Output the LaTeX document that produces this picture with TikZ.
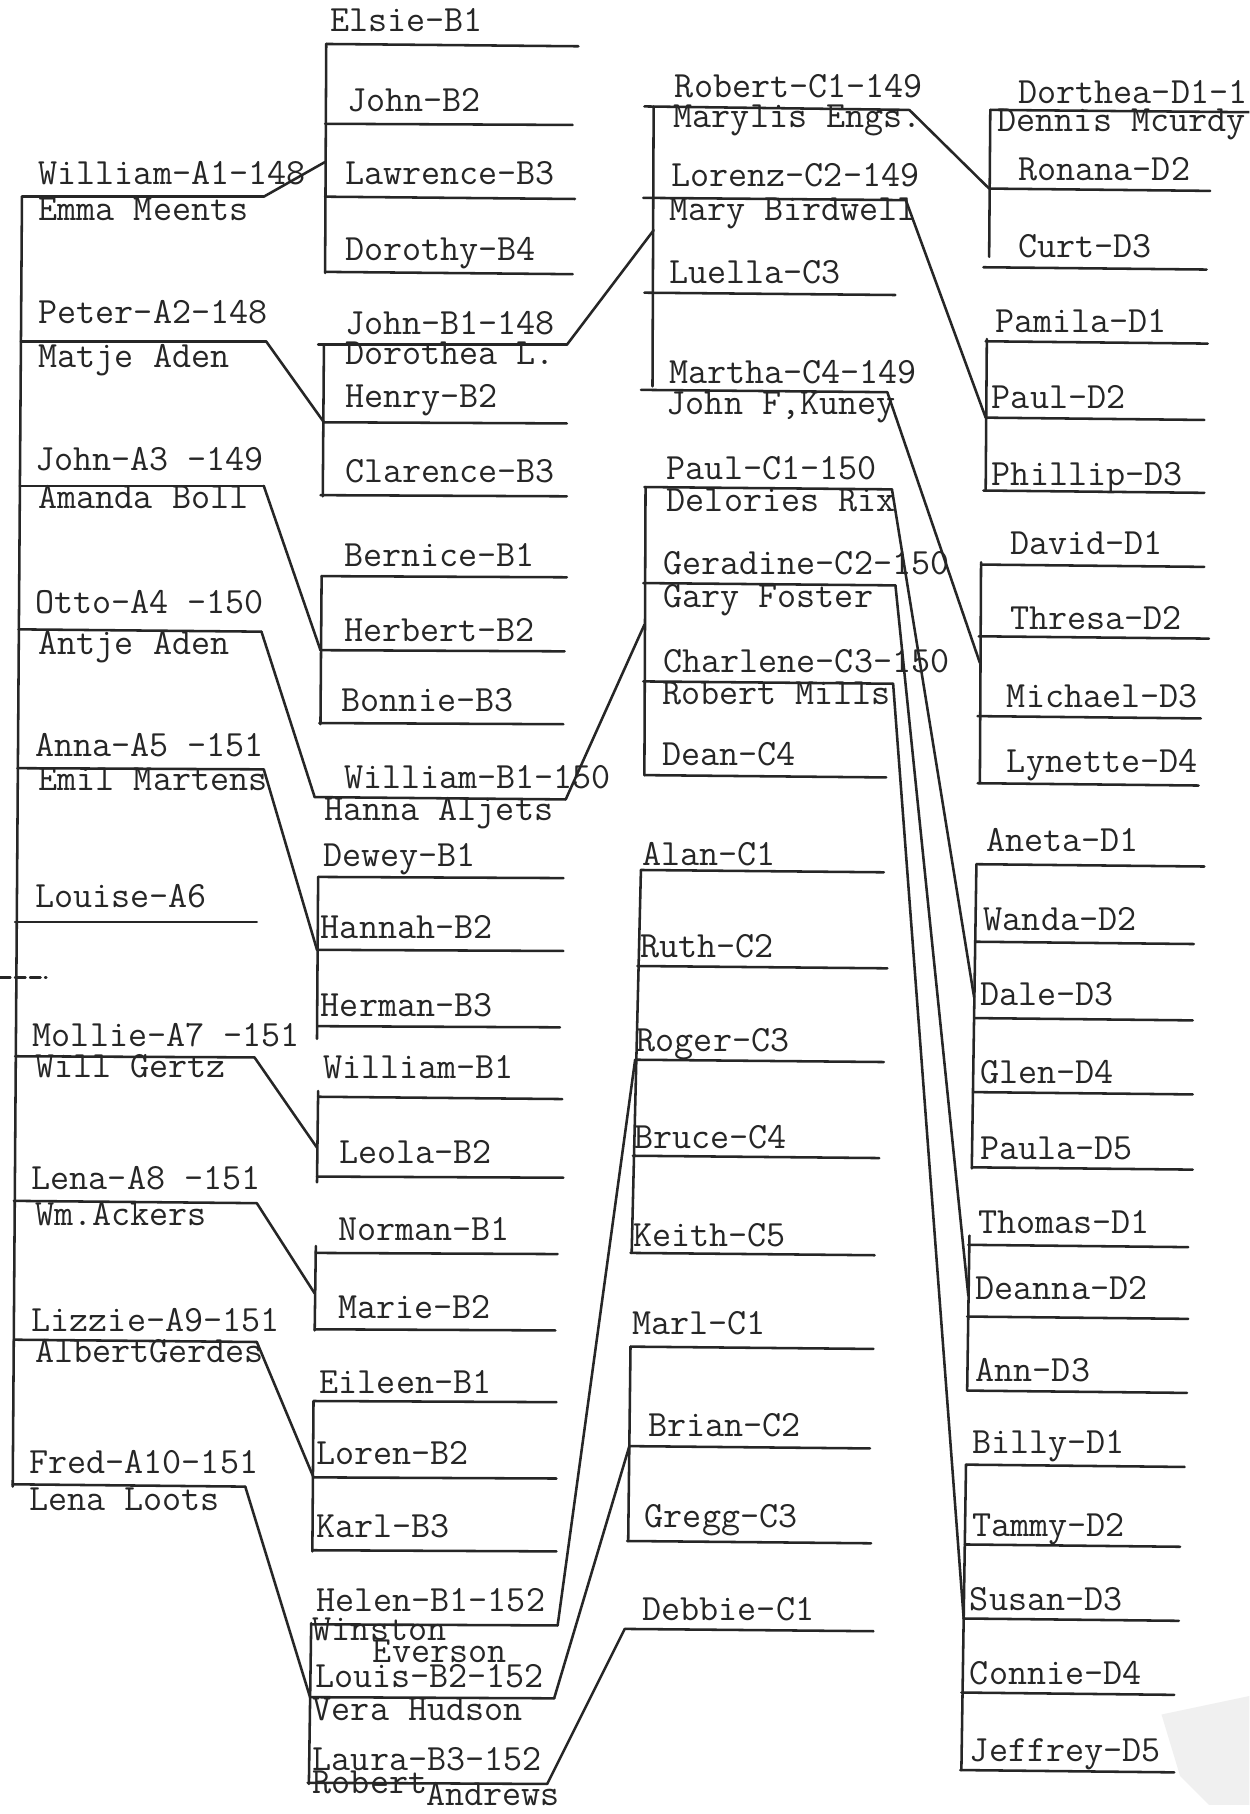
\documentclass[tikz,border=0pt]{standalone}
\usepackage{fontspec}
\setmonofont{Latin Modern Mono}
\newcommand\famline[5]{\coordinate (#1-l) at (#2,#3); \coordinate (#1-r) at (#4,#5); \draw[ln] (#1-l) -- (#1-r);}
\newcommand\lbl[4]{\node[lbl] (#1) at (#2,#3) {#4};}
\begin{document}
\begin{tikzpicture}[x=0.5pt,y=-0.5pt,
  ln/.style={line width=1.1pt, black!85, line cap=round},
  lbl/.style={anchor=mid west, inner sep=0pt, yshift=-2.5pt, font=\fontsize{16}{18}\selectfont\ttfamily, text=black!85}]
\fill[white] (0,0) rectangle (1080,1568);
\useasboundingbox (0,0) rectangle (1080,1568);
\clip (0,0) rectangle (1080,1568);
\fill[black!6] (1004,1482) -- (1080,1466) -- (1080,1560) -- (1045,1560) -- (1020,1535) -- cycle;

% ---------- column A ----------
\famline{va}{19}{170}{11}{1285}
\famline{a1}{19}{170}{228}{170}
\famline{a2}{18}{295}{230}{295}
\famline{a3}{17}{420}{228}{420}
\famline{a4}{16}{544}{226}{546}
\famline{a5}{15}{664}{228}{665}
\famline{a6}{13}{797}{222}{797}
\famline{a7}{13}{913}{220}{914}
\famline{a8}{12}{1038}{222}{1040}
\famline{a9}{12}{1158}{222}{1160}
\famline{a10}{11}{1283}{212}{1285}
\coordinate (dash-l) at (0,845); \coordinate (dash-r) at (40,845);
\draw[ln,dash pattern=on 4.5pt off 2pt] (dash-l) -- (dash-r);

\lbl{tA1}{33}{150}{William-A1-148}
\lbl{sA1}{33}{181}{Emma Meents}
\lbl{tA2}{33}{270}{Peter-A2-148}
\lbl{sA2}{33}{308}{Matje Aden}
\lbl{tA3}{30}{397}{John-A3 -149}
\lbl{sA3}{33}{430}{Amanda Boll}
\lbl{tA4}{30}{521}{Otto-A4 -150}
\lbl{sA4}{33}{556}{Antje Aden}
\lbl{tA5}{30}{645}{Anna-A5 -151}
\lbl{sA5}{33}{674}{Emil Martens}
\lbl{tA6}{30}{775}{Louise-A6}
\lbl{tA7}{28}{895}{Mollie-A7 -151}
\lbl{sA7}{30}{922}{Will Gertz}
\lbl{tA8}{27}{1019}{Lena-A8 -151}
\lbl{sA8}{30}{1050}{Wm.Ackers}
\lbl{tA9}{27}{1142}{Lizzie-A9-151}
\lbl{sA9}{30}{1168}{AlbertGerdes}
\lbl{tA10}{25}{1264}{Fred-A10-151}
\lbl{sA10}{25}{1296}{Lena Loots}

% ---------- column B ----------
\famline{bwv}{282}{38}{281}{236}
\famline{b11}{282}{38}{500}{40}
\famline{b12}{281}{107}{495}{108}
\famline{b13}{281}{170}{497}{172}
\famline{b14}{281}{235}{495}{237}
\coordinate (bw-j) at (281,140);
\draw[ln] (a1-r) -- (bw-j);

\famline{bpv}{280}{298}{279}{429}
\famline{b21}{275}{298}{490}{298}
\famline{b22}{280}{365}{490}{366}
\famline{b23}{277}{428}{490}{429}
\draw[ln] (a2-r) -- (b22-l);

\famline{bjv}{278}{498}{277}{626}
\famline{b31}{278}{498}{490}{499}
\famline{b32}{277}{562}{488}{563}
\famline{b33}{276}{625}{487}{626}
\draw[ln] (a3-r) -- (b32-l);

\famline{b41}{272}{689}{489}{691}
\draw[ln] (a4-r) -- (b41-l);

\famline{bav}{275}{758}{274}{898}
\famline{b51}{275}{758}{487}{759}
\famline{b52}{274}{821}{487}{822}
\famline{b53}{275}{887}{484}{888}
\draw[ln] (a5-r) -- (b52-l);

\famline{bmv}{275}{943}{274}{1022}
\famline{b71}{275}{948}{486}{950}
\famline{b72}{274}{1017}{487}{1018}
\coordinate (bm-j) at (274,992);
\draw[ln] (a7-r) -- (bm-j);

\famline{blv}{273}{1077}{272}{1150}
\famline{b81}{273}{1083}{482}{1084}
\famline{b82}{272}{1149}{480}{1150}
\coordinate (bl-j) at (272,1118);
\draw[ln] (a8-r) -- (bl-j);

\famline{biv}{271}{1211}{270}{1341}
\famline{b91}{271}{1211}{481}{1212}
\famline{b92}{271}{1277}{481}{1278}
\famline{b93}{270}{1340}{481}{1341}
\draw[ln] (a9-r) -- (b92-l);

\famline{bfv}{269}{1403}{267}{1542}
\famline{b101}{269}{1404}{482}{1405}
\famline{b102}{268}{1467}{479}{1468}
\famline{b103}{266}{1541}{473}{1542}
\draw[ln] (a10-r) -- (b102-l);

\lbl{tB11}{285}{18}{Elsie-B1}
\lbl{tB12}{300}{87}{John-B2}
\lbl{tB13}{298}{150}{Lawrence-B3}
\lbl{tB14}{298}{216}{Dorothy-B4}
\lbl{tB21}{298}{280}{John-B1-148}
\lbl{sB21}{298}{306}{Dorothea L.}
\lbl{tB22}{298}{343}{Henry-B2}
\lbl{tB23}{298}{408}{Clarence-B3}
\lbl{tB31}{297}{480}{Bernice-B1}
\lbl{tB32}{297}{545}{Herbert-B2}
\lbl{tB33}{295}{606}{Bonnie-B3}
\lbl{tB41}{297}{672}{William-B1-150}
\lbl{sB41}{280}{700}{Hanna Aljets}
\lbl{tB51}{279}{740}{Dewey-B1}
\lbl{tB52}{277}{802}{Hannah-B2}
\lbl{tB53}{277}{869}{Herman-B3}
\lbl{tB71}{279}{923}{William-B1}
\lbl{tB72}{293}{996}{Leola-B2}
\lbl{tB81}{292}{1063}{Norman-B1}
\lbl{tB82}{292}{1130}{Marie-B2}
\lbl{tB91}{276}{1195}{Eileen-B1}
\lbl{tB92}{273}{1257}{Loren-B2}
\lbl{tB93}{273}{1320}{Karl-B3}
\lbl{tB101}{273}{1384}{Helen-B1-152}
\lbl{sB101a}{270}{1409}{Winston}
\lbl{sB101b}{322}{1428}{Everson}
\lbl{tB102}{272}{1449}{Louis-B2-152}
\lbl{sB102}{270}{1478}{Vera Hudson}
\lbl{tB103}{270}{1521}{Laura-B3-152}
\lbl{sB103a}{270}{1541}{Robert}
\lbl{sB103b}{368}{1551}{Andrews}

% ---------- column C ----------
\famline{cjv}{565}{92}{564}{334}
\famline{c11}{557}{92}{786}{95}
\famline{c12}{556}{171}{783}{173}
\famline{c13}{557}{253}{774}{255}
\famline{c14}{554}{337}{767}{339}
\coordinate (cj-j) at (565,199);
\draw[ln] (b21-r) -- (cj-j);

\famline{cpv}{558}{421}{557}{670}
\famline{c21}{557}{421}{771}{423}
\famline{c22}{556}{504}{774}{506}
\famline{c23}{556}{589}{772}{591}
\famline{c24}{557}{670}{766}{672}
\coordinate (cp-j) at (557,540);
\draw[ln] (b41-r) -- (cp-j);

\famline{chv}{554}{752}{546}{1083}
\famline{c31}{554}{752}{764}{754}
\famline{c32}{551}{835}{767}{837}
\famline{c33}{549}{916}{764}{918}
\famline{c34}{547}{999}{760}{1001}
\famline{c35}{545}{1083}{756}{1085}
\draw[ln] (b101-r) -- (c33-l);

\famline{clv}{545}{1164}{543}{1332}
\famline{c41}{545}{1164}{755}{1166}
\famline{c42}{544}{1250}{752}{1252}
\famline{c43}{542}{1332}{753}{1334}
\draw[ln] (b102-r) -- (c42-l);

\famline{c51}{540}{1408}{755}{1410}
\draw[ln] (b103-r) -- (c51-l);

\lbl{tC11}{583}{75}{Robert-C1-149}
\lbl{sC11}{582}{101}{Marylis Engs.}
\lbl{tC12}{580}{152}{Lorenz-C2-149}
\lbl{sC12}{578}{181}{Mary Birdwell}
\lbl{tC13}{578}{236}{Luella-C3}
\lbl{tC14}{578}{322}{Martha-C4-149}
\lbl{sC14}{576}{349}{John F,Kuney}
\lbl{tC21}{576}{405}{Paul-C1-150}
\lbl{sC21}{576}{433}{Delories Rix}
\lbl{tC22}{573}{487}{Geradine-C2-150}
\lbl{sC22}{573}{516}{Gary Foster}
\lbl{tC23}{573}{572}{Charlene-C3-150}
\lbl{sC23}{572}{600}{Robert Mills}
\lbl{tC24}{572}{652}{Dean-C4}
\lbl{tC31}{555}{739}{Alan-C1}
\lbl{tC32}{553}{818}{Ruth-C2}
\lbl{tC33}{550}{900}{Roger-C3}
\lbl{tC34}{548}{983}{Bruce-C4}
\lbl{tC35}{547}{1068}{Keith-C5}
\lbl{tC41}{546}{1144}{Marl-C1}
\lbl{tC42}{560}{1232}{Brian-C2}
\lbl{tC43}{557}{1311}{Gregg-C3}
\lbl{tC51}{555}{1391}{Debbie-C1}

% ---------- column D ----------
\famline{drv}{856}{95}{855}{222}
\famline{d11}{856}{95}{1080}{97}
\famline{d12}{855}{163}{1046}{165}
\famline{d13}{850}{231}{1043}{233}
\draw[ln] (c11-r) -- (d12-l);

\famline{dlv}{853}{293}{852}{424}
\famline{d21}{852}{295}{1044}{297}
\famline{d22}{852}{361}{1041}{363}
\famline{d23}{850}{424}{1041}{426}
\draw[ln] (c12-r) -- (d22-l);

\famline{dmv}{848}{486}{847}{677}
\famline{d31}{848}{488}{1041}{490}
\famline{d32}{846}{550}{1045}{552}
\famline{d33}{845}{619}{1038}{621}
\famline{d34}{845}{677}{1036}{679}
\coordinate (dm-j) at (847,573);
\draw[ln] (c14-r) -- (dm-j);

\famline{dpv}{844}{747}{840}{1010}
\famline{d41}{844}{747}{1041}{749}
\famline{d42}{843}{814}{1032}{816}
\famline{d43}{842}{880}{1031}{882}
\famline{d44}{841}{944}{1031}{946}
\famline{d45}{840}{1009}{1031}{1011}
\coordinate (dp-j) at (842,862);
\draw[ln] (c21-r) -- (dp-j);

\famline{dgv}{838}{1068}{836}{1202}
\famline{d51}{837}{1076}{1027}{1078}
\famline{d52}{836}{1138}{1027}{1140}
\famline{d53}{836}{1202}{1026}{1204}
\coordinate (dg-j) at (837,1120);
\draw[ln] (c22-r) -- (dg-j);

\famline{dcv}{835}{1266}{831}{1530}
\famline{d61}{835}{1266}{1024}{1268}
\famline{d62}{834}{1335}{1020}{1337}
\famline{d63}{833}{1399}{1019}{1401}
\famline{d64}{831}{1463}{1015}{1465}
\famline{d65}{830}{1530}{1015}{1532}
\draw[ln] (c23-r) -- (d63-l);

\lbl{tD11}{880}{80}{Dorthea-D1-1}
\lbl{sD11}{862}{104}{Dennis Mcurdy}
\lbl{tD12}{880}{147}{Ronana-D2}
\lbl{tD13}{880}{213}{Curt-D3}
\lbl{tD21}{860}{278}{Pamila-D1}
\lbl{tD22}{857}{344}{Paul-D2}
\lbl{tD23}{857}{410}{Phillip-D3}
\lbl{tD31}{873}{470}{David-D1}
\lbl{tD32}{873}{535}{Thresa-D2}
\lbl{tD33}{870}{602}{Michael-D3}
\lbl{tD34}{870}{658}{Lynette-D4}
\lbl{tD41}{852}{727}{Aneta-D1}
\lbl{tD42}{850}{795}{Wanda-D2}
\lbl{tD43}{847}{860}{Dale-D3}
\lbl{tD44}{847}{927}{Glen-D4}
\lbl{tD45}{847}{993}{Paula-D5}
\lbl{tD51}{845}{1057}{Thomas-D1}
\lbl{tD52}{843}{1114}{Deanna-D2}
\lbl{tD53}{843}{1185}{Ann-D3}
\lbl{tD61}{840}{1247}{Billy-D1}
\lbl{tD62}{840}{1319}{Tammy-D2}
\lbl{tD63}{838}{1383}{Susan-D3}
\lbl{tD64}{838}{1447}{Connie-D4}
\lbl{tD65}{838}{1513}{Jeffrey-D5}
\end{tikzpicture}
\end{document}
